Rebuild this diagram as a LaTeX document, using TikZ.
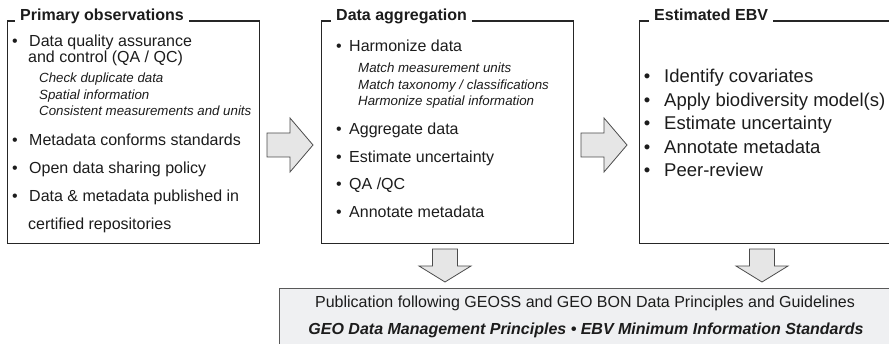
\documentclass[tikz,border=0pt]{standalone}
\usepackage{fontspec}
\setmainfont{Liberation Sans}
\usetikzlibrary{calc}
\definecolor{botfill}{RGB}{239,240,242}
\definecolor{arrfill}{RGB}{230,230,230}
\definecolor{txt}{RGB}{28,28,28}
\newcommand\rarrow[1]{\draw[arr] ($(#1)+(-23,-12)$) -- ++(23,0) -- ++(0,-15) -- ++(23,27) -- ++(-23,27) -- ++(0,-15) -- ++(-23,0) -- cycle;}
\newcommand\darrow[1]{\draw[arr] ($(#1)+(-12.5,-17)$) -- ++(0,17) -- ++(-13.5,0) -- ++(26,16) -- ++(26,-16) -- ++(-13.5,0) -- ++(0,-17) -- cycle;}
\begin{document}
\begin{tikzpicture}[x=1pt,y=-1pt,
  frame/.style={draw=black!85, line width=1.1pt, inner sep=0pt, anchor=north west},
  botbox/.style={draw=black!65, fill=botfill, line width=1pt, inner sep=0pt, anchor=north west},
  ttl/.style={font=\bfseries\fontsize{16}{16}\selectfont, text=txt, anchor=base west, fill=white, inner xsep=5pt, inner ysep=1pt},
  itm/.style={font=\fontsize{16}{16}\selectfont, text=txt, anchor=base west, inner sep=0pt},
  bul/.style={itm, anchor=base},
  subi/.style={font=\itshape\fontsize{13.3}{13.3}\selectfont, text=txt, anchor=base west, inner sep=0pt},
  big/.style={font=\fontsize{18.5}{18.5}\selectfont, text=txt, anchor=base west, inner sep=0pt},
  bigbul/.style={big, anchor=base},
  arr/.style={draw=black!70, fill=arrfill, line width=0.8pt, line join=miter},
  botl/.style={font=\fontsize{16}{16}\selectfont, text=txt, anchor=base, inner sep=0pt},
  botb/.style={font=\bfseries\itshape\fontsize{16}{16}\selectfont, text=txt, anchor=base, inner sep=0pt}
]
\useasboundingbox (0,0) rectangle (889,344);
\clip (0,0) rectangle (889,344);

% frames
\node[frame, minimum width=252pt, minimum height=222.5pt] (box1) at (7,20.5) {};
\node[frame, minimum width=252pt, minimum height=222.5pt] (box2) at (321,20.5) {};
\node[frame, minimum width=270pt, minimum height=222.5pt] (box3) at (639,20.5) {};
\node[botbox, minimum width=640pt, minimum height=80pt] (bot) at (279,288) {};

% titles
\node[ttl] (ttl1) at (15,21) {Primary observations};
\node[ttl] (ttl2) at (331,21) {Data aggregation};
\node[ttl] (ttl3) at (649,21) {Estimated EBV};

% box 1
\node[bul] (b1a) at (15,46.5) {•};
\node[itm] (t1a) at (29,46.5) {Data quality assurance};
\node[itm] (t1b) at (28,63) {and control (QA / QC)};
\node[subi] (s1a) at (39,83) {Check duplicate data};
\node[subi] (s1b) at (39,99.5) {Spatial information};
\node[subi] (s1c) at (39,116) {Consistent measurements and units};
\node[bul] (b1b) at (15,146) {•};
\node[itm] (t1c) at (29,146) {Metadata conforms standards};
\node[bul] (b1c) at (15,174) {•};
\node[itm] (t1d) at (29,174) {Open data sharing policy};
\node[bul] (b1d) at (15,202) {•};
\node[itm] (t1e) at (29,202) {Data \& metadata published in};
\node[itm] (t1f) at (28,230) {certified repositories};

% box 2
\node[bul] (b2a) at (339,52) {•};
\node[itm] (t2a) at (349,52) {Harmonize data};
\node[subi] (s2a) at (358,73) {Match measurement units};
\node[subi] (s2b) at (358,89.5) {Match taxonomy / classifications};
\node[subi] (s2c) at (358,106) {Harmonize spatial information};
\node[bul] (b2b) at (339,135) {•};
\node[itm] (t2b) at (349,135) {Aggregate data};
\node[bul] (b2c) at (339,163) {•};
\node[itm] (t2c) at (349,163) {Estimate uncertainty};
\node[bul] (b2d) at (339,190) {•};
\node[itm] (t2d) at (349,190) {QA /QC};
\node[bul] (b2e) at (339,218) {•};
\node[itm] (t2e) at (349,218) {Annotate metadata};

% box 3
\node[bigbul] (b3a) at (647,83) {•};
\node[big] (t3a) at (664,83) {Identify covariates};
\node[bigbul] (b3b) at (647,106.5) {•};
\node[big] (t3b) at (664,106.5) {Apply biodiversity model(s)};
\node[bigbul] (b3c) at (647,130) {•};
\node[big] (t3c) at (664,130) {Estimate uncertainty};
\node[bigbul] (b3d) at (647,153.5) {•};
\node[big] (t3d) at (664,153.5) {Annotate metadata};
\node[bigbul] (b3e) at (647,177) {•};
\node[big] (t3e) at (664,177) {Peer-review};

% bottom text
\node[botl] (bt1) at (585,308) {Publication following GEOSS and GEO BON Data Principles and Guidelines};
\node[botb] (bt2) at (586,335) {GEO Data Management Principles • EBV Minimum Information Standards};

% block arrows
\coordinate (h1) at (290,145);
\coordinate (h2) at (604,145);
\coordinate (h3) at (445,266);
\coordinate (h4) at (762,266);
\rarrow{h1}
\rarrow{h2}
\darrow{h3}
\darrow{h4}
\end{tikzpicture}
\end{document}
